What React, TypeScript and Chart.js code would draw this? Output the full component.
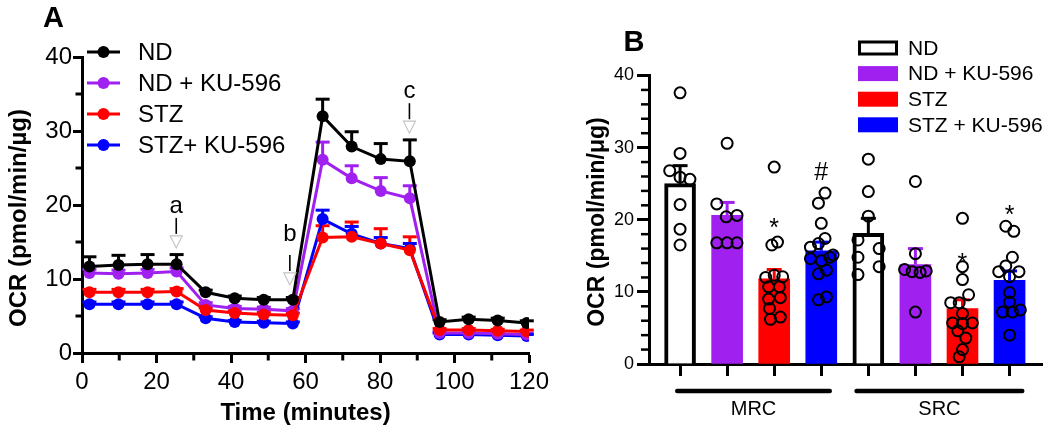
import React, { useEffect, useRef } from 'react';
import { Chart, registerables } from 'chart.js';

Chart.register(...registerables);

const FONT_FAMILY = '"Liberation Sans", Arial, Helvetica, sans-serif';
const BLACK = '#000000';
const PURPLE = '#a020f0';
const RED = '#ff0000';
const BLUE = '#0000ff';

// ---------------- Panel A data ----------------
const timeMinutes = [2, 9.8, 17.6, 25.4, 33.2, 41, 48.8, 56.6, 64.6, 72.4, 80.2, 88, 96, 103.8, 111.6, 119.4];
const timeTicks = [0, 20, 40, 60, 80, 100, 120];
const timeMinorTicks = [10, 30, 50, 70, 90, 110];
const ocrTicksA = [0, 10, 20, 30, 40];
const ocrMinorTicksA = [5, 15, 25, 35];
const seriesLabelsA = ['ND', 'ND + KU-596', 'STZ', 'STZ+ KU-596'];
const seriesColorsA = [BLACK, PURPLE, RED, BLUE];
const seriesOrderA = [0, 2, 1, 3];

const ndMean = [11.7, 11.9, 12.0, 12.0, 8.2, 7.4, 7.2, 7.2, 32.0, 27.9, 26.2, 25.9, 4.2, 4.55, 4.4, 4.05];
const ndSem = [1.3, 1.3, 1.3, 1.3, 0.3, 0.3, 0.3, 0.3, 2.3, 2.0, 2.1, 2.9, 0.3, 0.3, 0.3, 0.3];
const ndKuMean = [10.8, 10.7, 10.8, 11.0, 6.5, 6.0, 5.9, 5.7, 26.1, 23.6, 21.9, 20.9, 2.7, 2.7, 2.6, 2.5];
const ndKuSem = [0.5, 0.5, 0.5, 0.5, 0.3, 0.3, 0.3, 0.3, 2.4, 1.7, 1.8, 1.7, 0.2, 0.2, 0.2, 0.2];
const stzMean = [8.2, 8.2, 8.2, 8.3, 5.8, 5.4, 5.2, 5.1, 15.6, 15.7, 14.8, 13.9, 3.1, 3.1, 3.0, 2.9];
const stzSem = [0.4, 0.4, 0.4, 0.4, 0.3, 0.3, 0.3, 0.3, 1.6, 2.0, 2.0, 1.8, 0.2, 0.2, 0.2, 0.2];
const stzKuMean = [6.6, 6.6, 6.6, 6.6, 4.7, 4.2, 4.1, 4.0, 18.1, 16.1, 14.8, 14.1, 2.5, 2.5, 2.4, 2.3];
const stzKuSem = [0.3, 0.3, 0.3, 0.3, 0.2, 0.2, 0.2, 0.2, 1.2, 1.0, 0.8, 0.7, 0.2, 0.2, 0.2, 0.2];

const injectionLabels = ['a', 'b', 'c'];
const injectionTimes = [25.3, 55.8, 87.9];
const injectionArrowTip = [14.2, 9.2, 29.7];
const injectionLabelBase = [18.9, 15.2, 34.5];

// ---------------- Panel B data ----------------
const groupLabelsB = ['ND', 'ND + KU-596', 'STZ', 'STZ + KU-596'];
const barPositions = [0, 1, 2, 3, 4, 5, 6, 7];
const barMeans = [25.0, 20.6, 11.8, 15.7, 18.1, 13.8, 7.7, 11.6];
const barSems = [2.5, 1.8, 1.3, 1.2, 2.1, 2.2, 1.2, 1.3];
const ocrTicksB = [0, 10, 20, 30, 40];
const ocrMinorTicksB = [2, 4, 6, 8, 12, 14, 16, 18, 22, 24, 26, 28, 32, 34, 36, 38];

const pointValues = [
  [37.6, 29.2, 26.8, 25.9, 25.6, 22.1, 18.7, 16.5],
  [30.6, 22.2, 20.4, 20.6, 16.8, 16.8, 16.8],
  [27.3, 16.9, 16.5, 12.3, 12.1, 12.0, 10.7, 10.7, 9.2, 9.0, 7.7, 6.5, 6.2],
  [23.7, 22.3, 19.5, 17.4, 16.7, 16.2, 15.1, 14.8, 14.6, 14.3, 13.0, 12.5, 9.3, 8.9],
  [28.4, 23.9, 20.5, 17.2, 16.0, 14.8, 13.5, 12.4],
  [25.3, 15.3, 13.1, 12.8, 12.7, 12.9, 7.2],
  [20.2, 13.5, 11.7, 9.6, 8.5, 8.5, 7.0, 5.7, 5.6, 5.7, 4.6, 3.6, 2.0, 1.0],
  [19.1, 18.4, 14.8, 13.6, 12.8, 12.8, 12.1, 9.9, 8.6, 7.2, 7.2, 7.5, 4.0],
];
const pointJitter = [
  [0, 0, -0.22, 0, 0.21, 0, 0, 0],
  [0, -0.22, -0.02, 0.21, -0.22, 0, 0.21],
  [0, 0.07, -0.05, 0, 0.18, -0.18, -0.12, 0.11, 0.13, -0.12, -0.1, 0.13, -0.08],
  [0.08, -0.06, 0, 0.08, -0.06, -0.23, 0.25, 0.18, -0.23, 0, 0.11, -0.06, 0.11, -0.06],
  [0, 0, 0, -0.22, 0.23, -0.22, 0.23, -0.22],
  [0, 0, -0.23, -0.07, 0.1, 0.23, 0],
  [0, 0, 0, 0.13, -0.25, -0.07, 0, -0.21, 0, 0.21, -0.1, 0.07, 0, -0.07],
  [-0.08, 0.09, 0.06, -0.08, -0.23, 0.2, 0, 0, 0, -0.15, 0.06, 0.23, 0],
];
const barFill = ['#ffffff', PURPLE, RED, BLUE, '#ffffff', PURPLE, RED, BLUE];
const barEdge = [BLACK, PURPLE, RED, BLUE, BLACK, PURPLE, RED, BLUE];
const barEdgeWidth = [4, 0, 0, 0, 4, 0, 0, 0];

const markText = ['*', '#', '*', '*'];
const markBar = [2, 3, 6, 7];
const markValue = [17.8, 25.5, 12.9, 19.6];

const regionLabels = ['MRC', 'SRC'];
const regionStart = [-0.06, 3.75];
const regionEnd = [3.18, 7.27];

// ---------------- helpers ----------------
function font(size: number, bold = false) {
  return `${bold ? 'bold ' : ''}${size}px ${FONT_FAMILY}`;
}
function seg(ctx: CanvasRenderingContext2D, x1: number, y1: number, x2: number, y2: number, color: string, width: number, cap: CanvasLineCap = 'butt') {
  ctx.save();
  ctx.strokeStyle = color;
  ctx.lineWidth = width;
  ctx.lineCap = cap;
  ctx.beginPath();
  ctx.moveTo(x1, y1);
  ctx.lineTo(x2, y2);
  ctx.stroke();
  ctx.restore();
}
function label(ctx: CanvasRenderingContext2D, str: string, x: number, y: number, f: string, align: CanvasTextAlign = 'center', baseline: CanvasTextBaseline = 'middle', rotate = 0) {
  ctx.save();
  ctx.font = f;
  ctx.fillStyle = BLACK;
  ctx.textAlign = align;
  ctx.textBaseline = baseline;
  ctx.translate(x, y);
  if (rotate) ctx.rotate(rotate);
  ctx.fillText(str, 0, 0);
  ctx.restore();
}

const seriesA = [
  { mean: ndMean, sem: ndSem },
  { mean: ndKuMean, sem: ndKuSem },
  { mean: stzMean, sem: stzSem },
  { mean: stzKuMean, sem: stzKuSem },
];

const panelAPlugin = {
  id: 'panelADecor',
  beforeDatasetsDraw(chart: any) {
    const { ctx } = chart;
    const xs = chart.scales.x;
    const ys = chart.scales.y;
    seriesA.forEach((s, si) => {
      const color = seriesColorsA[si];
      timeMinutes.forEach((t, i) => {
        const x = xs.getPixelForValue(t);
        const y0 = ys.getPixelForValue(s.mean[i]);
        const y1 = ys.getPixelForValue(s.mean[i] + s.sem[i]);
        seg(ctx, x, y0, x, y1, color, 3);
        seg(ctx, x - 7, y1, x + 7, y1, color, 3);
      });
    });
  },
  afterDatasetsDraw(chart: any) {
    const { ctx } = chart;
    const xs = chart.scales.x;
    const ys = chart.scales.y;
    injectionLabels.forEach((lab, i) => {
      const px = xs.getPixelForValue(injectionTimes[i]);
      const tip = ys.getPixelForValue(injectionArrowTip[i]);
      ctx.save();
      ctx.beginPath();
      ctx.moveTo(px - 6, tip - 12);
      ctx.lineTo(px + 6, tip - 12);
      ctx.lineTo(px, tip);
      ctx.closePath();
      ctx.fillStyle = '#ffffff';
      ctx.fill();
      ctx.strokeStyle = '#c4c4c4';
      ctx.lineWidth = 1.2;
      ctx.stroke();
      ctx.restore();
      seg(ctx, px, tip - 30, px, tip - 14, BLACK, 1.6);
      label(ctx, lab, px, ys.getPixelForValue(injectionLabelBase[i]), font(24), 'center', 'alphabetic');
    });
  },
  afterDraw(chart: any) {
    const { ctx, chartArea } = chart;
    const xs = chart.scales.x;
    const ys = chart.scales.y;
    timeMinorTicks.forEach((v) => {
      const x = xs.getPixelForValue(v);
      seg(ctx, x, chartArea.bottom, x, chartArea.bottom + 7.5, BLACK, 3);
    });
    ocrMinorTicksA.forEach((v) => {
      const y = ys.getPixelForValue(v);
      seg(ctx, chartArea.left - 6.5, y, chartArea.left, y, BLACK, 3);
    });
    // legend
    seriesLabelsA.forEach((name, i) => {
      const y = 52 + i * 31;
      const c = seriesColorsA[i];
      seg(ctx, 87, y, 120, y, c, 3);
      ctx.save();
      ctx.fillStyle = c;
      ctx.beginPath();
      ctx.arc(103.5, y, 6, 0, Math.PI * 2);
      ctx.fill();
      ctx.restore();
      label(ctx, name, 138, y + 1, font(24), 'left', 'middle');
    });
    label(ctx, 'Time (minutes)', (chartArea.left + chartArea.right) / 2, 413, font(24, true));
    label(ctx, 'OCR (pmol/min/µg)', 19, 218, font(24, true), 'center', 'middle', -Math.PI / 2);
    label(ctx, 'A', 53.5, 19, font(29, true));
  },
};

const panelBPlugin = {
  id: 'panelBDecor',
  afterDatasetDraw(chart: any, args: any) {
    if (args.index !== 0) return;
    const { ctx } = chart;
    const xs = chart.scales.x;
    const ys = chart.scales.y;
    barPositions.forEach((p, i) => {
      const x = xs.getPixelForValue(p);
      const y0 = ys.getPixelForValue(barMeans[i]);
      const y1 = ys.getPixelForValue(barMeans[i] + barSems[i]);
      seg(ctx, x, y0, x, y1, barEdge[i], 3);
      seg(ctx, x - 7.5, y1, x + 7.5, y1, barEdge[i], 3);
    });
  },
  afterDraw(chart: any) {
    const { ctx, chartArea } = chart;
    const xs = chart.scales.x;
    const ys = chart.scales.y;
    ocrMinorTicksB.forEach((v) => {
      const y = ys.getPixelForValue(v);
      seg(ctx, chartArea.left - 8, y, chartArea.left, y, BLACK, 2.5);
    });
    markText.forEach((m, i) => {
      label(ctx, m, xs.getPixelForValue(markBar[i]), ys.getPixelForValue(markValue[i]), font(25), 'center', 'alphabetic');
    });
    regionLabels.forEach((r, i) => {
      const x1 = xs.getPixelForValue(regionStart[i]);
      const x2 = xs.getPixelForValue(regionEnd[i]);
      seg(ctx, x1, chartArea.bottom + 27, x2, chartArea.bottom + 27, BLACK, 4.5, 'round');
      label(ctx, r, (x1 + x2) / 2, chartArea.bottom + 45, font(20));
    });
    // legend
    const fills = [barFill[0], barFill[1], barFill[2], barFill[3]];
    groupLabelsB.forEach((g, i) => {
      const cy = 48 + i * 25.6;
      ctx.save();
      if (i === 0) {
        ctx.fillStyle = '#ffffff';
        ctx.fillRect(279.5, cy - 6, 37, 12);
        ctx.strokeStyle = BLACK;
        ctx.lineWidth = 3;
        ctx.strokeRect(279.5, cy - 6, 37, 12);
      } else {
        ctx.fillStyle = fills[i];
        ctx.fillRect(278, cy - 7.5, 40, 15);
      }
      ctx.restore();
      label(ctx, g, 328, cy + 1, font(21), 'left', 'middle');
    });
    label(ctx, 'OCR (pmol/min/μg)', 18, 222, font(23, true), 'center', 'middle', -Math.PI / 2);
    label(ctx, 'B', 54, 43, font(29, true));
  },
};

function PanelA() {
  const ref = useRef<HTMLCanvasElement | null>(null);
  useEffect(() => {
    if (!ref.current) return;
    const tickFont = { family: FONT_FAMILY, size: 24 };
    const chart = new Chart(ref.current, {
      type: 'line',
      data: {
        datasets: seriesA.map((s, si) => ({
          label: seriesLabelsA[si],
          data: timeMinutes.map((t, i) => ({ x: t, y: s.mean[i] })),
          borderColor: seriesColorsA[si],
          backgroundColor: seriesColorsA[si],
          pointBackgroundColor: seriesColorsA[si],
          pointBorderColor: seriesColorsA[si],
          pointRadius: 6,
          pointBorderWidth: 0,
          borderWidth: 3,
          tension: 0,
          order: seriesOrderA[si],
        })),
      },
      options: {
        responsive: false,
        animation: false,
        layout: { padding: { left: 0, top: 57, right: 31, bottom: 0 } },
        plugins: { legend: { display: false }, tooltip: { enabled: false } },
        scales: {
          x: {
            type: 'linear',
            min: 0,
            max: 120,
            afterBuildTicks: (s: any) => { s.ticks = timeTicks.map((v) => ({ value: v })); },
            ticks: { font: tickFont, color: BLACK, padding: 5, maxRotation: 0, autoSkip: false },
            grid: { drawOnChartArea: false, drawTicks: true, tickLength: 10, tickWidth: 3, tickColor: BLACK },
            border: { color: BLACK, width: 3 },
            afterFit: (s: any) => { s.height = 76; },
          },
          y: {
            type: 'linear',
            min: 0,
            max: 40,
            afterBuildTicks: (s: any) => { s.ticks = ocrTicksA.map((v) => ({ value: v })); },
            ticks: { font: tickFont, color: BLACK, padding: 1 },
            grid: { drawOnChartArea: false, drawTicks: true, tickLength: 9, tickWidth: 3, tickColor: BLACK },
            border: { color: BLACK, width: 3 },
            afterFit: (s: any) => { s.width = 82; },
          },
        },
      } as any,
      plugins: [panelAPlugin],
    });
    return () => chart.destroy();
  }, []);
  return <canvas ref={ref} width={560} height={429} style={{ position: 'absolute', left: 0, top: 0 }} />;
}

function PanelB() {
  const ref = useRef<HTMLCanvasElement | null>(null);
  useEffect(() => {
    if (!ref.current) return;
    const scatterData: { x: number; y: number }[] = [];
    pointValues.forEach((vals, b) => {
      vals.forEach((v, j) => scatterData.push({ x: barPositions[b] + pointJitter[b][j], y: v }));
    });
    const chart = new Chart(ref.current, {
      type: 'bar',
      data: {
        datasets: [
          {
            type: 'bar',
            label: 'OCR',
            data: barMeans.map((m, i) => ({ x: barPositions[i], y: m })),
            backgroundColor: barFill,
            borderColor: barEdge,
            borderWidth: barEdgeWidth,
            barThickness: 31,
            order: 2,
          } as any,
          {
            type: 'scatter',
            label: 'points',
            data: scatterData,
            pointRadius: 5.5,
            pointBorderWidth: 2,
            pointBorderColor: BLACK,
            pointBackgroundColor: 'rgba(0,0,0,0)',
            borderColor: BLACK,
            backgroundColor: 'rgba(0,0,0,0)',
            order: 1,
          } as any,
        ],
      },
      options: {
        responsive: false,
        animation: false,
        layout: { padding: { left: 0, top: 75.5, right: 6, bottom: 0 } },
        plugins: { legend: { display: false }, tooltip: { enabled: false } },
        scales: {
          x: {
            type: 'linear',
            min: -0.66,
            max: 7.7,
            offset: false,
            afterBuildTicks: (s: any) => { s.ticks = barPositions.map((v) => ({ value: v })); },
            ticks: { display: false },
            grid: { offset: false, drawOnChartArea: false, drawTicks: true, tickLength: 12, tickWidth: 3, tickColor: BLACK },
            border: { color: BLACK, width: 3 },
            afterFit: (s: any) => { s.height = 65; },
          },
          y: {
            type: 'linear',
            min: 0,
            max: 40,
            afterBuildTicks: (s: any) => { s.ticks = ocrTicksB.map((v) => ({ value: v })); },
            ticks: { font: { family: FONT_FAMILY, size: 18 }, color: BLACK, padding: 3 },
            grid: { drawOnChartArea: false, drawTicks: true, tickLength: 12, tickWidth: 3, tickColor: BLACK },
            border: { color: BLACK, width: 3 },
            afterFit: (s: any) => { s.width = 69; },
          },
        },
      } as any,
      plugins: [panelBPlugin],
    });
    return () => chart.destroy();
  }, []);
  return <canvas ref={ref} width={470} height={429} style={{ position: 'absolute', left: 580, top: 0 }} />;
}

export default function App() {
  return (
    <div style={{ position: 'fixed', left: 0, top: 0, width: 1050, height: 429, background: '#ffffff', overflow: 'hidden' }}>
      <PanelA />
      <PanelB />
    </div>
  );
}
